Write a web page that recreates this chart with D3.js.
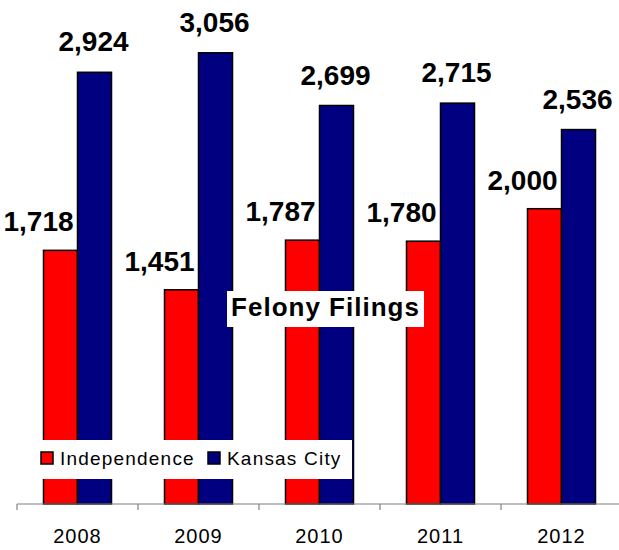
<!DOCTYPE html>
<html>
<head>
<meta charset="utf-8">
<script src="https://cdn.jsdelivr.net/npm/d3@7"></script>
<style>
  html, body { margin: 0; padding: 0; background: #fff; }
  svg { display: block; font-family: "Liberation Sans", Arial, sans-serif; }
</style>
</head>
<body>
<svg id="chart" width="619" height="550"></svg>
<script>
const years = ["2008", "2009", "2010", "2011", "2012"];
const seriesNames = ["Independence", "Kansas City"];
const independence = [1718, 1451, 1787, 1780, 2000];
const kansasCity = [2924, 3056, 2699, 2715, 2536];
const seriesColors = ["#FF0000", "#000080"];
const titleText = "Felony Filings";

const svg = d3.select("#chart");
const values = [independence, kansasCity];

const x = d3.scaleBand().domain(years).range([17, 622])
  .paddingInner(0.438).paddingOuter(0.219);
const xs = d3.scaleBand().domain(seriesNames).range([0, x.bandwidth()]);
const y = d3.scaleLinear().domain([0, 3400]).range([504, 2]);

// bars
seriesNames.forEach((name, si) => {
  svg.append("g").selectAll("rect")
    .data(years.map((yr, i) => ({ yr, v: values[si][i] })))
    .join("rect")
    .attr("x", d => x(d.yr) + xs(name))
    .attr("y", d => y(d.v))
    .attr("width", xs.bandwidth())
    .attr("height", d => y(0) - y(d.v))
    .attr("fill", seriesColors[si])
    .attr("stroke", "#000")
    .attr("stroke-width", 1.5);
});

// axis
const step = x.step();
const axisG = svg.append("g").attr("transform", `translate(0,${y(0)})`);
axisG.append("line").attr("x1", 17).attr("x2", 619).attr("y1", 0).attr("y2", 0)
  .attr("stroke", "#808080").attr("stroke-width", 1.2);
const boundaries = years.map(yr => x(yr) - (step - x.bandwidth()) / 2);
axisG.selectAll("line.tick").data(boundaries).join("line")
  .attr("class", "tick")
  .attr("x1", d => d).attr("x2", d => d).attr("y1", 0).attr("y2", 6)
  .attr("stroke", "#808080").attr("stroke-width", 1.2);
const xAxis = d3.axisBottom(x).tickSize(0).tickPadding(0);
const xa = svg.append("g").attr("transform", `translate(0,${y(0)})`).call(xAxis);
xa.select(".domain").remove();
xa.selectAll("text")
  .attr("dy", 0).attr("y", 39)
  .attr("font-family", "Liberation Sans, Arial, sans-serif")
  .attr("font-size", 20).attr("letter-spacing", 1).attr("fill", "#000");

// value labels
const fmt = d3.format(",");
seriesNames.forEach((name, si) => {
  const dx = si === 0 ? -22 : -1;
  const dy = si === 0 ? -19 : -21;
  svg.append("g").selectAll("text")
    .data(years.map((yr, i) => ({ yr, v: values[si][i] })))
    .join("text")
    .attr("x", d => x(d.yr) + xs(name) + xs.bandwidth() / 2 + dx)
    .attr("y", d => y(d.v) + dy)
    .attr("text-anchor", "middle")
    .attr("font-size", 28).attr("font-weight", "bold").attr("fill", "#000")
    .text(d => fmt(d.v));
});

// title
svg.append("rect").attr("x", 227).attr("y", 291).attr("width", 197).attr("height", 36).attr("fill", "#fff");
svg.append("text").attr("x", 325.5).attr("y", 316).attr("text-anchor", "middle")
  .attr("font-size", 26).attr("font-weight", "bold").attr("letter-spacing", 1)
  .attr("fill", "#000").text(titleText);

// legend
const lg = svg.append("g");
lg.append("rect").attr("x", 33).attr("y", 440).attr("width", 319).attr("height", 39).attr("fill", "#fff");
const legendX = [41, 208];
seriesNames.forEach((name, si) => {
  lg.append("rect").attr("x", legendX[si]).attr("y", 452).attr("width", 12).attr("height", 12)
    .attr("fill", seriesColors[si]).attr("stroke", "#000").attr("stroke-width", 1.5);
  lg.append("text").attr("x", legendX[si] + 19).attr("y", 465)
    .attr("font-size", 19).attr("letter-spacing", 1.2).attr("fill", "#000").text(name);
});
</script>
</body>
</html>
